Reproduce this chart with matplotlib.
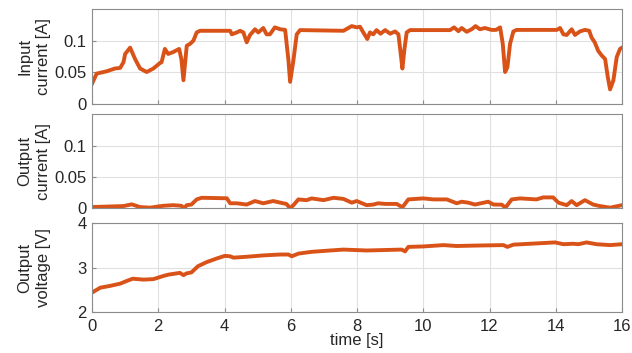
import numpy as np
import matplotlib
matplotlib.use("Agg")
import matplotlib.pyplot as plt

# values
t_in = [0, 0.14, 0.44, 0.69, 0.85, 0.95, 1.0, 1.15, 1.30, 1.45, 1.65, 1.85, 2.05, 2.1, 2.2, 2.3,
        2.45, 2.63, 2.7, 2.76, 2.86, 2.96, 3.06, 3.16, 3.26, 4.17, 4.22, 4.37, 4.47, 4.57, 4.67,
        4.77, 4.92, 5.02, 5.17, 5.27, 5.37, 5.52, 5.68, 5.83, 5.93, 5.98, 6.08, 6.18, 6.28, 7.59,
        7.84, 7.99, 8.09, 8.19, 8.31, 8.39, 8.49, 8.59, 8.71, 8.85, 9.0, 9.15, 9.25, 9.32, 9.37,
        9.43, 9.50, 9.6, 10.81, 10.93, 11.06, 11.16, 11.31, 11.46, 11.58, 11.71, 11.86, 12.06,
        12.2, 12.32, 12.40, 12.47, 12.54, 12.62, 12.72, 12.82, 14.03, 14.13, 14.23, 14.33, 14.48,
        14.58, 14.73, 14.88, 15.01, 15.08, 15.18, 15.28, 15.38, 15.49, 15.57, 15.64, 15.74, 15.84,
        15.94, 16.0]
i_in = [0.032, 0.048, 0.0516, 0.056, 0.057, 0.066, 0.079, 0.089, 0.071, 0.056, 0.0505, 0.056,
        0.0646, 0.066, 0.087, 0.079, 0.082, 0.087, 0.07, 0.0375, 0.092, 0.095, 0.1, 0.113, 0.1156,
        0.1156, 0.11, 0.113, 0.1156, 0.113, 0.0974, 0.109, 0.118, 0.113, 0.12, 0.11, 0.11, 0.121,
        0.118, 0.117, 0.069, 0.035, 0.069, 0.11, 0.1167, 0.1156, 0.123, 0.121, 0.122, 0.113,
        0.1026, 0.113, 0.11, 0.1167, 0.111, 0.1167, 0.111, 0.1146, 0.11, 0.079, 0.056, 0.086,
        0.113, 0.1167, 0.1167, 0.121, 0.115, 0.12, 0.114, 0.118, 0.123, 0.118, 0.12, 0.117,
        0.117, 0.121, 0.095, 0.0505, 0.058, 0.095, 0.1146, 0.117, 0.117, 0.12, 0.11, 0.109,
        0.118, 0.109, 0.1146, 0.117, 0.1156, 0.105, 0.097, 0.084, 0.077, 0.071, 0.0427, 0.023,
        0.0375, 0.074, 0.087, 0.089]

t_out = [0, 0.95, 1.2, 1.45, 1.75, 2.15, 2.45, 2.7, 2.78, 2.86, 3.0, 3.16, 3.31, 4.07, 4.17,
         4.37, 4.67, 4.92, 5.17, 5.47, 5.77, 5.87, 5.98, 6.08, 6.23, 6.48, 6.63, 6.99, 7.29,
         7.59, 7.84, 7.99, 8.29, 8.49, 8.64, 8.85, 9.2, 9.37, 9.55, 10.0, 10.31, 10.71, 11.01,
         11.16, 11.36, 11.56, 11.96, 12.12, 12.37, 12.48, 12.67, 12.92, 13.42, 13.62, 13.92,
         14.08, 14.33, 14.48, 14.63, 14.88, 15.13, 15.33, 15.64, 15.82, 16.0]
i_out = [0.002, 0.0036, 0.0063, 0.002, 0.001, 0.004, 0.005, 0.004, 0.0, 0.005, 0.006, 0.0142,
         0.0168, 0.016, 0.008, 0.008, 0.006, 0.0116, 0.008, 0.0116, 0.008, 0.007, 0.0, 0.005,
         0.0142, 0.013, 0.0158, 0.013, 0.0168, 0.015, 0.009, 0.0116, 0.005, 0.006, 0.008, 0.007,
         0.007, 0.0016, 0.0142, 0.0158, 0.0142, 0.0142, 0.008, 0.0105, 0.009, 0.006, 0.0105,
         0.006, 0.0058, 0.001, 0.0142, 0.0158, 0.0142, 0.0174, 0.0174, 0.009, 0.005, 0.0116,
         0.005, 0.013, 0.006, 0.0036, 0.001, 0.003, 0.005]

t_v = [0, 0.25, 0.55, 0.85, 1.05, 1.23, 1.55, 1.85, 2.15, 2.3, 2.65, 2.76, 2.86, 3.0, 3.2,
       3.46, 3.76, 4.01, 4.17, 4.27, 4.67, 5.17, 5.68, 5.93, 6.03, 6.23, 6.63, 7.19, 7.59,
       8.29, 9.35, 9.45, 9.55, 10.0, 10.61, 11.01, 11.61, 12.42, 12.54, 12.72, 13.22, 13.98,
       14.23, 14.53, 14.68, 14.93, 15.23, 15.64, 16.0]
v_out = [2.44, 2.55, 2.59, 2.64, 2.70, 2.75, 2.73, 2.74, 2.81, 2.84, 2.88, 2.83, 2.87, 2.89,
         3.03, 3.12, 3.2, 3.26, 3.25, 3.22, 3.24, 3.27, 3.29, 3.29, 3.25, 3.31, 3.35, 3.38,
         3.40, 3.38, 3.40, 3.36, 3.46, 3.47, 3.50, 3.48, 3.49, 3.50, 3.46, 3.51, 3.53, 3.56,
         3.52, 3.53, 3.52, 3.56, 3.52, 3.50, 3.52]

plt.rcParams['font.family'] = ['Liberation Sans', 'DejaVu Sans']
plt.rcParams['font.size'] = 12

color = '#D95319'
fig = plt.figure(figsize=(6.32, 3.53), dpi=100)
left, width = 0.1456, 0.8386
ax1 = fig.add_axes([left, 0.7054, width, 0.2691])
ax2 = fig.add_axes([left, 0.4099, width, 0.2663])
ax3 = fig.add_axes([left, 0.1153, width, 0.2538])

ax1.plot(t_in, i_in, color=color, lw=2.8, solid_joinstyle='round')
ax2.plot(t_out, i_out, color=color, lw=2.8, solid_joinstyle='round')
ax3.plot(t_v, v_out, color=color, lw=2.8, solid_joinstyle='round')

for ax in (ax1, ax2):
    ax.set_ylim(0, 0.15)
    ax.set_yticks([0, 0.05, 0.1])
    ax.set_yticklabels(['0', '0.05', '0.1'])
    ax.set_xticklabels([])
ax3.set_ylim(2, 4)
ax3.set_yticks([2, 3, 4])

for ax in (ax1, ax2, ax3):
    ax.set_xlim(0, 16)
    ax.set_xticks(range(0, 17, 2))
    ax.grid(True, color='#e0e0e0', lw=0.8)
    ax.set_axisbelow(True)
    for s in ax.spines.values():
        s.set_color('#8c8c8c')
        s.set_linewidth(0.8)
    ax.tick_params(direction='in', length=3, color='#8c8c8c', labelcolor='#262626',
                   labelsize=12, pad=4)
ax3.tick_params(axis='x', pad=5)

ax1.set_ylabel("Input\ncurrent [A]", color='#262626', fontsize=12, linespacing=1.25)
ax2.set_ylabel("Output\ncurrent [A]", color='#262626', fontsize=12, linespacing=1.25)
ax3.set_ylabel("Output\nvoltage [V]", color='#262626', fontsize=12, linespacing=1.25)
ax3.set_xlabel("time [s]", color='#262626', fontsize=12, labelpad=-1)
for ax in (ax1, ax2, ax3):
    ax.yaxis.set_label_coords(-0.078, 0.5)

fig.savefig("out.png", dpi=100)
